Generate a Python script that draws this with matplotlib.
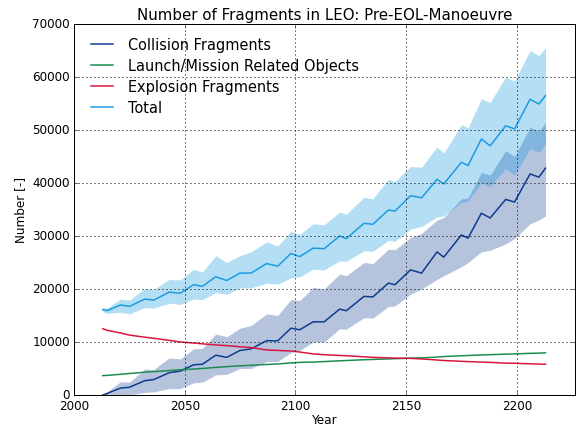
import numpy as np
import matplotlib
matplotlib.use("Agg")
import matplotlib.pyplot as plt

# years sampled at the peaks/troughs of the solar-cycle wiggle
years = [2013, 2015, 2021, 2025, 2032, 2036, 2043, 2048, 2054, 2058,
         2064, 2069, 2075, 2080, 2087, 2092, 2098, 2102, 2108, 2113,
         2120, 2123, 2131, 2135, 2142, 2145, 2152, 2157, 2164, 2167,
         2175, 2178, 2184, 2188, 2195, 2199, 2206, 2210, 2213]

total_mean = [16100, 15900, 17000, 16700, 18100, 17900, 19400, 19200, 20800, 20500,
              22300, 21600, 23000, 23000, 24800, 24300, 26700, 26100, 27700, 27600,
              30000, 29500, 32400, 32200, 34900, 34700, 37600, 37200, 40700, 39800,
              43900, 43300, 48300, 47000, 50800, 50200, 55800, 54900, 56500]
total_upper = [16500, 16400, 18100, 17900, 20100, 19900, 21800, 21700, 23700, 23200,
               26300, 25000, 26300, 27000, 28900, 28100, 30900, 30300, 32300, 32100,
               34500, 34100, 37300, 37000, 40700, 40300, 43100, 43000, 46800, 45600,
               51000, 50400, 55900, 55200, 60000, 59200, 65000, 64000, 65600]
total_lower = [15700, 15400, 15600, 15300, 16500, 16400, 17300, 17100, 18100, 18000,
               19300, 19000, 20200, 20200, 21100, 20900, 22100, 22300, 23700, 23600,
               25300, 25200, 27200, 27100, 29200, 29000, 31300, 31800, 33600, 33800,
               36300, 36600, 40000, 39300, 42700, 41500, 46500, 45800, 47300]

coll_mean = [0, 300, 1300, 1450, 2700, 2900, 4200, 4500, 5700, 5800,
             7500, 7100, 8400, 8700, 10250, 10200, 12600, 12300, 13800, 13800,
             16200, 15900, 18600, 18500, 21100, 20800, 23600, 23000, 27000, 26000,
             30200, 29600, 34300, 33400, 36900, 36400, 41700, 41100, 42800]
coll_upper = [0, 600, 2500, 2400, 4900, 4800, 7000, 6800, 8700, 8800,
              11500, 11000, 12600, 13100, 15300, 15000, 18000, 17800, 20300, 20000,
              22800, 22500, 25000, 24800, 27500, 27400, 29700, 30500, 33000, 33500,
              37000, 37200, 42000, 41500, 46100, 45000, 50500, 49800, 51400]
coll_lower = [0, 0, 0, 0, 500, 600, 1200, 1200, 2300, 2400,
              3800, 3900, 5000, 5000, 6300, 6300, 8000, 8400, 10000, 10000,
              12500, 12400, 14600, 14500, 16700, 16800, 19000, 20000, 21800, 22500,
              24200, 25000, 27000, 27300, 28500, 29500, 32300, 33000, 33800]

launch = [3650, 3700, 3900, 4050, 4300, 4400, 4600, 4750, 4900, 5000,
          5200, 5350, 5500, 5600, 5750, 5850, 6050, 6150, 6200, 6300,
          6450, 6500, 6650, 6700, 6800, 6850, 6950, 7000, 7150, 7250,
          7400, 7450, 7550, 7600, 7700, 7750, 7850, 7900, 7950]
explosion = [12500, 12200, 11700, 11300, 10900, 10700, 10300, 10000, 9800, 9650,
             9450, 9300, 9100, 8950, 8500, 8400, 8300, 8100, 7750, 7600,
             7450, 7400, 7200, 7100, 7000, 6950, 6900, 6800, 6600, 6500,
             6350, 6300, 6200, 6150, 6000, 5980, 5880, 5830, 5800]

c_coll = '#0b3a8f'
c_launch = '#1a8c4e'
c_expl = '#d8143d'
c_total = '#1b9be0'

plt.style.use('classic')
plt.rcParams['font.family'] = ['DejaVu Sans']

fig = plt.figure(figsize=(8, 5.958), dpi=72, facecolor='white')
ax = fig.add_axes([0.1285, 0.077, 0.8705, 0.8648])
ax.set_facecolor('white')

ax.fill_between(years, coll_lower, coll_upper, color=c_coll, alpha=0.3, lw=0)
ax.fill_between(years, total_lower, total_upper, color=c_total, alpha=0.33, lw=0)

ax.plot(years, coll_mean, color=c_coll, lw=1.5, label='Collision Fragments')
ax.plot(years, launch, color=c_launch, lw=1.5, label='Launch/Mission Related Objects')
ax.plot(years, explosion, color=c_expl, lw=1.5, label='Explosion Fragments')
ax.plot(years, total_mean, color=c_total, lw=1.5, label='Total')

ax.set_xlim(2000, 2226.5)
ax.set_ylim(0, 70000)
ax.set_xticks([2000, 2050, 2100, 2150, 2200])
ax.set_yticks(np.arange(0, 70001, 10000))
ax.grid(True, color='k', linestyle=(0, (1, 3)), lw=1)
ax.tick_params(labelsize=12, direction='in')

ax.set_title('Number of Fragments in LEO: Pre-EOL-Manoeuvre', fontsize=15)
ax.set_xlabel('Year', fontsize=12, labelpad=1)
ax.set_ylabel('Number [-]', fontsize=12)
ax.legend(loc='upper left', frameon=False, fontsize=14.5, handlelength=2.1,
          handletextpad=0.75, labelspacing=0.42, borderaxespad=0.5)

fig.savefig('out.png', dpi=72, facecolor='white')
